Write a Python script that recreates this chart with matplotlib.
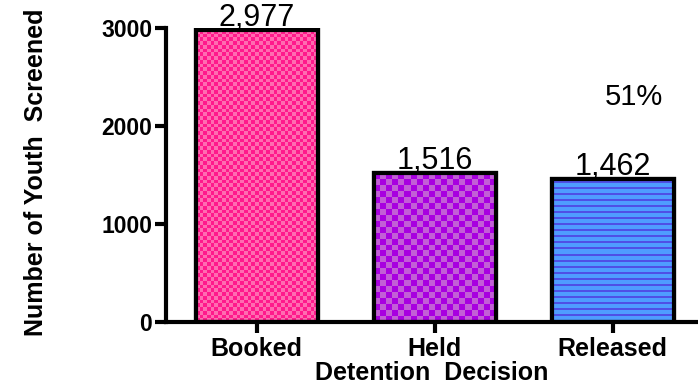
import numpy as np
import matplotlib
matplotlib.use("Agg")
import matplotlib.pyplot as plt
from matplotlib.colors import to_rgb

plt.rcParams['font.family'] = ['Liberation Sans', 'DejaVu Sans']

categories = ['Booked', 'Held', 'Released']
counts = [2977, 1516, 1462]
pct_text = '51%'

W, H = 698, 391
fig = plt.figure(figsize=(W / 100, H / 100), dpi=100)
ax_l, ax_b, ax_w, ax_h = 166, 322, 532, 294     # pixels
ax = fig.add_axes([ax_l / W, 1 - ax_b / H, ax_w / W, ax_h / H])

xlim = (-0.51, 2.48)
ylim = (0, 3000)
ax.set_xlim(*xlim)
ax.set_ylim(*ylim)
px_x = ax_w / (xlim[1] - xlim[0])
px_y = ax_h / (ylim[1] - ylim[0])

x = np.arange(len(categories))
bw = 0.685
bars = ax.bar(x, counts, width=bw, color='white', edgecolor='black', linewidth=3, zorder=2)


def checker(nx, ny, c1, c2):
    m = np.add.outer(np.arange(ny), np.arange(nx)) % 2
    img = np.empty((ny, nx, 3))
    img[m == 0] = to_rgb(c1)
    img[m == 1] = to_rgb(c2)
    return img


def stripes(ny, base, line, period=6):
    img = np.empty((ny, 1, 3))
    img[:] = to_rgb(base)
    img[np.arange(ny) % period < 1.5] = to_rgb(line)
    return img


# fill patterns drawn as images clipped to each bar
for i, b in enumerate(bars):
    x0, y0 = b.get_x(), b.get_y()
    w, h = b.get_width(), b.get_height()
    wp, hp = w * px_x, h * px_y
    if i == 0:
        img = checker(int(round(wp / 3.75)), int(round(hp / 3.75)), '#ff1a8c', '#ff6cb0')
    elif i == 1:
        img = checker(int(round(wp / 6)), int(round(hp / 6)), '#a800e0', '#c25fd6')
    else:
        img = stripes(int(round(hp)), '#4f9cff', '#4f4fe6')
    im = ax.imshow(img, extent=(x0, x0 + w, y0, y0 + h), origin='lower',
                   interpolation='nearest', aspect='auto', zorder=2.5)
    im.set_clip_path(b)

# outlines on top of the patterns
ax.bar(x, counts, width=bw, fill=False, edgecolor='black', linewidth=3, zorder=3)
ax.set_xlim(*xlim)
ax.set_ylim(*ylim)

for xi, v in zip(x, counts):
    ax.annotate(f'{v:,}', (xi, v), xytext=(0, 3), textcoords='offset points',
                ha='center', va='baseline', fontsize=22, annotation_clip=False)

ax.text(2.12, 2296, pct_text, ha='center', va='center', fontsize=21)

for s in ['top', 'right']:
    ax.spines[s].set_visible(False)
for s in ['left', 'bottom']:
    ax.spines[s].set_linewidth(3)

ax.set_yticks([0, 1000, 2000, 3000])
ax.set_xticks(x)
ax.set_xticklabels(categories)
ax.tick_params(axis='both', width=3, length=8, direction='out')
ax.tick_params(axis='y', labelsize=16.5, pad=2)
ax.tick_params(axis='x', labelsize=18, pad=3)
for lab in ax.get_xticklabels() + ax.get_yticklabels():
    lab.set_fontweight('bold')

ax.set_xlabel('Detention  Decision', fontsize=18, fontweight='bold')
ax.xaxis.set_label_coords(0.5, -0.134)
fig.text(36 / W, 1 - 172 / H, 'Number of Youth  Screened', rotation=90,
         ha='center', va='center', fontsize=18, fontweight='bold')

fig.savefig('out.png', dpi=100)
